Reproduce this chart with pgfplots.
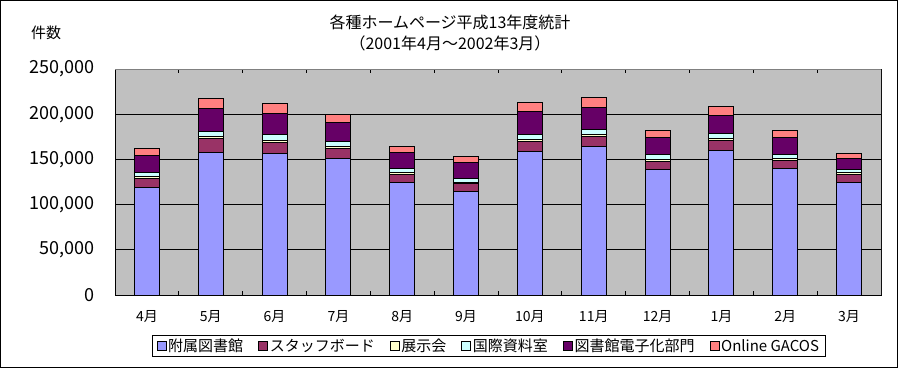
\documentclass[border=0pt]{standalone}
\usepackage{fontspec}
\setmainfont{Noto Sans CJK JP}
\usepackage{pgfplots}
\pgfplotsset{compat=1.18}
\definecolor{bg}{HTML}{C0C0C0}
\definecolor{cA}{HTML}{9999FF}
\definecolor{cB}{HTML}{993366}
\definecolor{cC}{HTML}{FFFFCC}
\definecolor{cD}{HTML}{CCFFFF}
\definecolor{cE}{HTML}{660066}
\definecolor{cF}{HTML}{FF8080}
\begin{document}
\begin{tikzpicture}[x=1pt,y=1pt]
\useasboundingbox (0,0) rectangle (898,368);
\draw[line width=1pt] (0.5,0.5) rectangle (897.5,367.5);
\node[font=\fontsize{16}{21}\selectfont, align=center] at (450,335) {各種ホームページ平成13年度統計\\（2001年4月～2002年3月）};
\node[font=\fontsize{15}{17}\selectfont] at (46,335) {件数};
\begin{axis}[
  at={(115pt,73pt)}, anchor=south west, scale only axis,
  width=766pt, height=226pt,
  ybar stacked, bar width=25pt,
  xmin=-0.5, xmax=11.5, ymin=0, ymax=250000,
  xtick={0,...,11},
  xticklabels={4月,5月,6月,7月,8月,9月,10月,11月,12月,1月,2月,3月},
  minor xtick={0.5,1.5,...,10.5},
  ytick={0,50000,100000,150000,200000,250000},
  yticklabels={0,{50,000},{100,000},{150,000},{200,000},{250,000}},
  scaled y ticks=false,
  yticklabel style={font=\fontsize{18}{20}\selectfont, inner sep=0pt, anchor=east, xshift=-20pt},
  xticklabel style={font=\fontsize{14}{16}\selectfont, inner sep=0pt, anchor=north, yshift=-15pt},
  tick align=inside,
  major tick length=5pt, minor tick length=4pt,
  x tick style={draw=none},
  minor x tick style={draw=black, line width=0.8pt},
  y tick style={draw=black, line width=0.8pt},
  ymajorgrids, grid style={black, line width=0.9pt},
  axis background/.style={fill=bg},
  axis line style={black, line width=1pt},
  every axis plot/.append style={draw=black, line width=1pt},
  legend columns=-1,
  legend style={at={(0.488,-0.2257)}, anchor=center, draw=black, line width=0.8pt,
    font=\fontsize{15}{16}\selectfont, inner xsep=4pt, inner ysep=1.5pt,
    /tikz/every even column/.append style={column sep=13pt}},
  legend image code/.code={\draw[#1, draw=black, line width=0.6pt] (0pt,-4pt) rectangle (9pt,5pt);},
]
\addplot[fill=cA] coordinates {(0,118500) (1,157800) (2,156700) (3,151500) (4,124800) (5,114800) (6,158200) (7,164800) (8,139300) (9,159300) (10,140400) (11,124800)};
\addplot[fill=cB] coordinates {(0,10700) (1,14800) (2,12200) (3,11100) (4,8100) (5,8100) (6,11100) (7,10400) (8,8900) (9,11500) (10,8100) (11,8500)};
\addplot[fill=cC] coordinates {(0,2200) (1,2400) (2,2200) (3,1900) (4,2400) (5,1700) (6,2400) (7,2400) (8,2200) (9,1900) (10,2200) (11,1900)};
\addplot[fill=cD] coordinates {(0,3800) (1,6100) (2,6700) (3,5100) (4,4700) (5,4300) (6,6200) (7,5400) (8,4500) (9,6200) (10,4500) (11,3300)};
\addplot[fill=cE] coordinates {(0,19600) (1,25600) (2,23000) (3,21100) (4,17800) (5,18100) (6,25200) (7,24100) (8,18900) (9,19300) (10,18500) (11,12200)};
\addplot[fill=cF] coordinates {(0,7400) (1,11100) (2,10700) (3,8500) (4,6700) (5,6300) (6,9300) (7,11900) (8,8100) (9,10700) (10,8500) (11,5900)};
\legend{附属図書館,スタッフボード,展示会,国際資料室,図書館電子化部門,Online GACOS}
\draw[gray, line width=1pt] (rel axis cs:0,1) -- (rel axis cs:1,1) -- (rel axis cs:1,0);
\end{axis}
\end{tikzpicture}
\end{document}
